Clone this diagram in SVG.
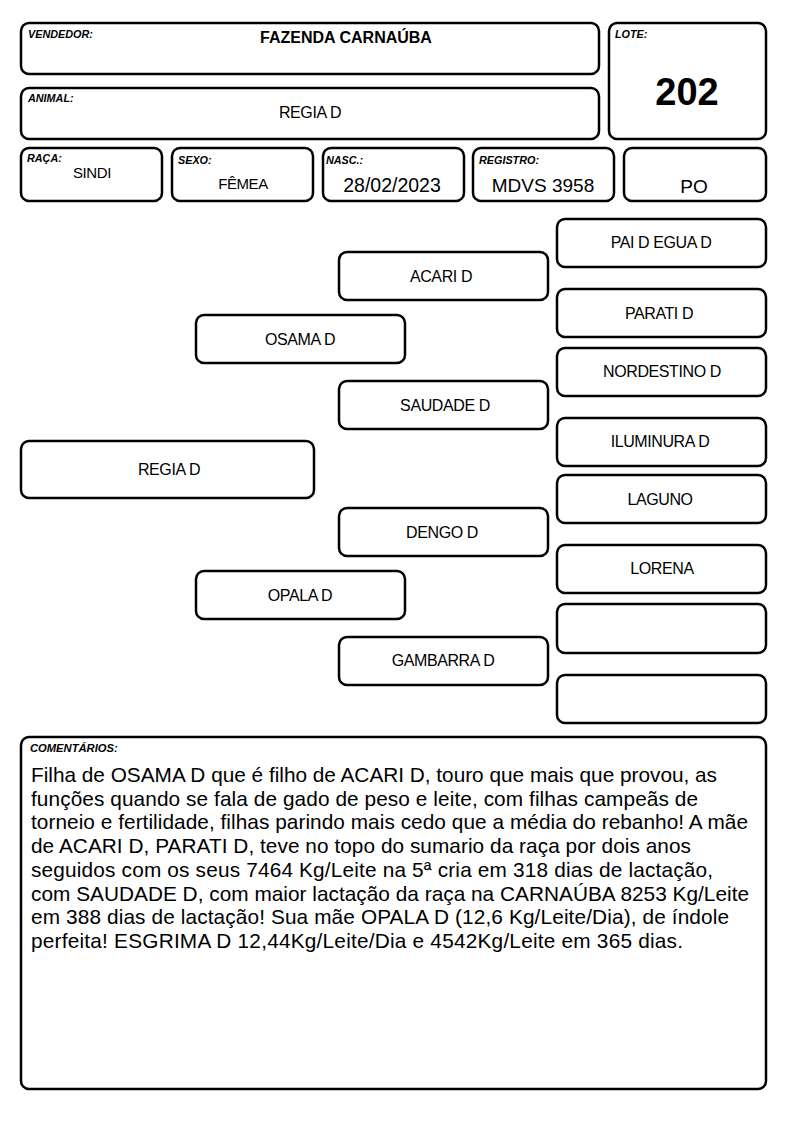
<svg xmlns="http://www.w3.org/2000/svg" width="794" height="1123" viewBox="0 0 794 1123">
<style>
rect{fill:#fff;stroke:#000;stroke-width:2.5}
text{font-family:"Liberation Sans",Arial,sans-serif;fill:#000}
.lbl{font-size:10.8px;font-weight:bold;font-style:italic}
.n{font-size:16px;text-anchor:middle;letter-spacing:-0.4px}
.v{font-size:19px;text-anchor:middle}
.c{font-size:20.8px}
</style>
<rect width="794" height="1123" style="fill:#fff;stroke:none"/>
<g id="vendedor"><rect x="21" y="23" width="578" height="51" rx="8"/><text class="lbl" x="28" y="38">VENDEDOR:</text><text x="346" y="43" style="font-size:16px;font-weight:bold;text-anchor:middle">FAZENDA CARNAÚBA</text></g>
<g id="animal"><rect x="21" y="88" width="578" height="51" rx="8"/><text class="lbl" x="28" y="102">ANIMAL:</text><text class="n" x="310" y="118">REGIA D</text></g>
<g id="lote"><rect x="609" y="23" width="157" height="116" rx="8"/><text class="lbl" x="615" y="38">LOTE:</text><text x="687" y="105" style="font-size:38px;font-weight:bold;text-anchor:middle">202</text></g>
<g id="raca"><rect x="21" y="148" width="141" height="53" rx="8"/><text class="lbl" x="27" y="162">RAÇA:</text><text class="n" x="92" y="178" style="font-size:15px">SINDI</text></g>
<g id="sexo"><rect x="172" y="148" width="141" height="53" rx="8"/><text class="lbl" x="178" y="164">SEXO:</text><text class="n" x="243" y="189" style="font-size:15px">FÊMEA</text></g>
<g id="nasc"><rect x="323" y="148" width="141" height="53" rx="8"/><text class="lbl" x="326" y="164">NASC.:</text><text class="v" x="392" y="192" style="font-size:19.5px">28/02/2023</text></g>
<g id="registro"><rect x="473" y="148" width="141" height="53" rx="8"/><text class="lbl" x="479" y="164">REGISTRO:</text><text class="v" x="543" y="192">MDVS 3958</text></g>
<g id="po"><rect x="624" y="148" width="142" height="53" rx="8"/><text class="v" x="694" y="193">PO</text></g>
<g id="connectors"></g>
<g id="regia"><rect x="21" y="441" width="293" height="57" rx="8"/><text class="n" x="169" y="475">REGIA D</text></g>
<g id="osama"><rect x="196" y="315" width="209" height="48" rx="8"/><text class="n" x="300" y="345">OSAMA D</text></g>
<g id="opala"><rect x="196" y="571" width="209" height="48" rx="8"/><text class="n" x="300" y="601">OPALA D</text></g>
<g id="acari"><rect x="339" y="252" width="209" height="48" rx="8"/><text class="n" x="441" y="282">ACARI D</text></g>
<g id="saudade"><rect x="339" y="381" width="209" height="48" rx="8"/><text class="n" x="445" y="411">SAUDADE D</text></g>
<g id="dengo"><rect x="339" y="508" width="209" height="48" rx="8"/><text class="n" x="442" y="538">DENGO D</text></g>
<g id="gambarra"><rect x="339" y="637" width="209" height="48" rx="8"/><text class="n" x="443" y="666">GAMBARRA D</text></g>
<g id="paidegua"><rect x="557" y="219" width="209" height="48" rx="8"/><text class="n" x="661" y="248">PAI D EGUA D</text></g>
<g id="parati"><rect x="557" y="289" width="209" height="48" rx="8"/><text class="n" x="659" y="319">PARATI D</text></g>
<g id="nordestino"><rect x="557" y="348" width="209" height="48" rx="8"/><text class="n" x="662" y="377">NORDESTINO D</text></g>
<g id="iluminura"><rect x="557" y="418" width="209" height="48" rx="8"/><text class="n" x="660" y="447">ILUMINURA D</text></g>
<g id="laguno"><rect x="557" y="475" width="209" height="48" rx="8"/><text class="n" x="660" y="505">LAGUNO</text></g>
<g id="lorena"><rect x="557" y="545" width="209" height="48" rx="8"/><text class="n" x="662" y="574">LORENA</text></g>
<g id="empty1"><rect x="557" y="604" width="209" height="49" rx="8"/></g>
<g id="empty2"><rect x="557" y="675" width="209" height="48" rx="8"/></g>
<g id="comentarios"><rect x="21" y="737" width="745" height="352" rx="8"/><text class="lbl" x="30" y="752" style="font-size:11.2px">COMENTÁRIOS:</text>
<text class="c" x="31" y="782" textLength="686" lengthAdjust="spacing">Filha de OSAMA D que é filho de ACARI D, touro que mais que provou, as</text>
<text class="c" x="31" y="805.7" textLength="667" lengthAdjust="spacing">funções quando se fala de gado de peso e leite, com filhas campeãs de</text>
<text class="c" x="31" y="829.4" textLength="717" lengthAdjust="spacing">torneio e fertilidade, filhas parindo mais cedo que a média do rebanho! A mãe</text>
<text class="c" x="31" y="853.1" textLength="660" lengthAdjust="spacing">de ACARI D, PARATI D, teve no topo do sumario da raça por dois anos</text>
<text class="c" x="31" y="876.8" textLength="682" lengthAdjust="spacing">seguidos com os seus 7464 Kg/Leite na 5ª cria em 318 dias de lactação,</text>
<text class="c" x="31" y="900.5" textLength="718" lengthAdjust="spacing">com SAUDADE D, com maior lactação da raça na CARNAÚBA 8253 Kg/Leite</text>
<text class="c" x="31" y="924.2" textLength="698" lengthAdjust="spacing">em 388 dias de lactação! Sua mãe OPALA D (12,6 Kg/Leite/Dia), de índole</text>
<text class="c" x="31" y="947.9" textLength="652" lengthAdjust="spacing">perfeita! ESGRIMA D 12,44Kg/Leite/Dia e 4542Kg/Leite em 365 dias.</text>
</g>
</svg>
